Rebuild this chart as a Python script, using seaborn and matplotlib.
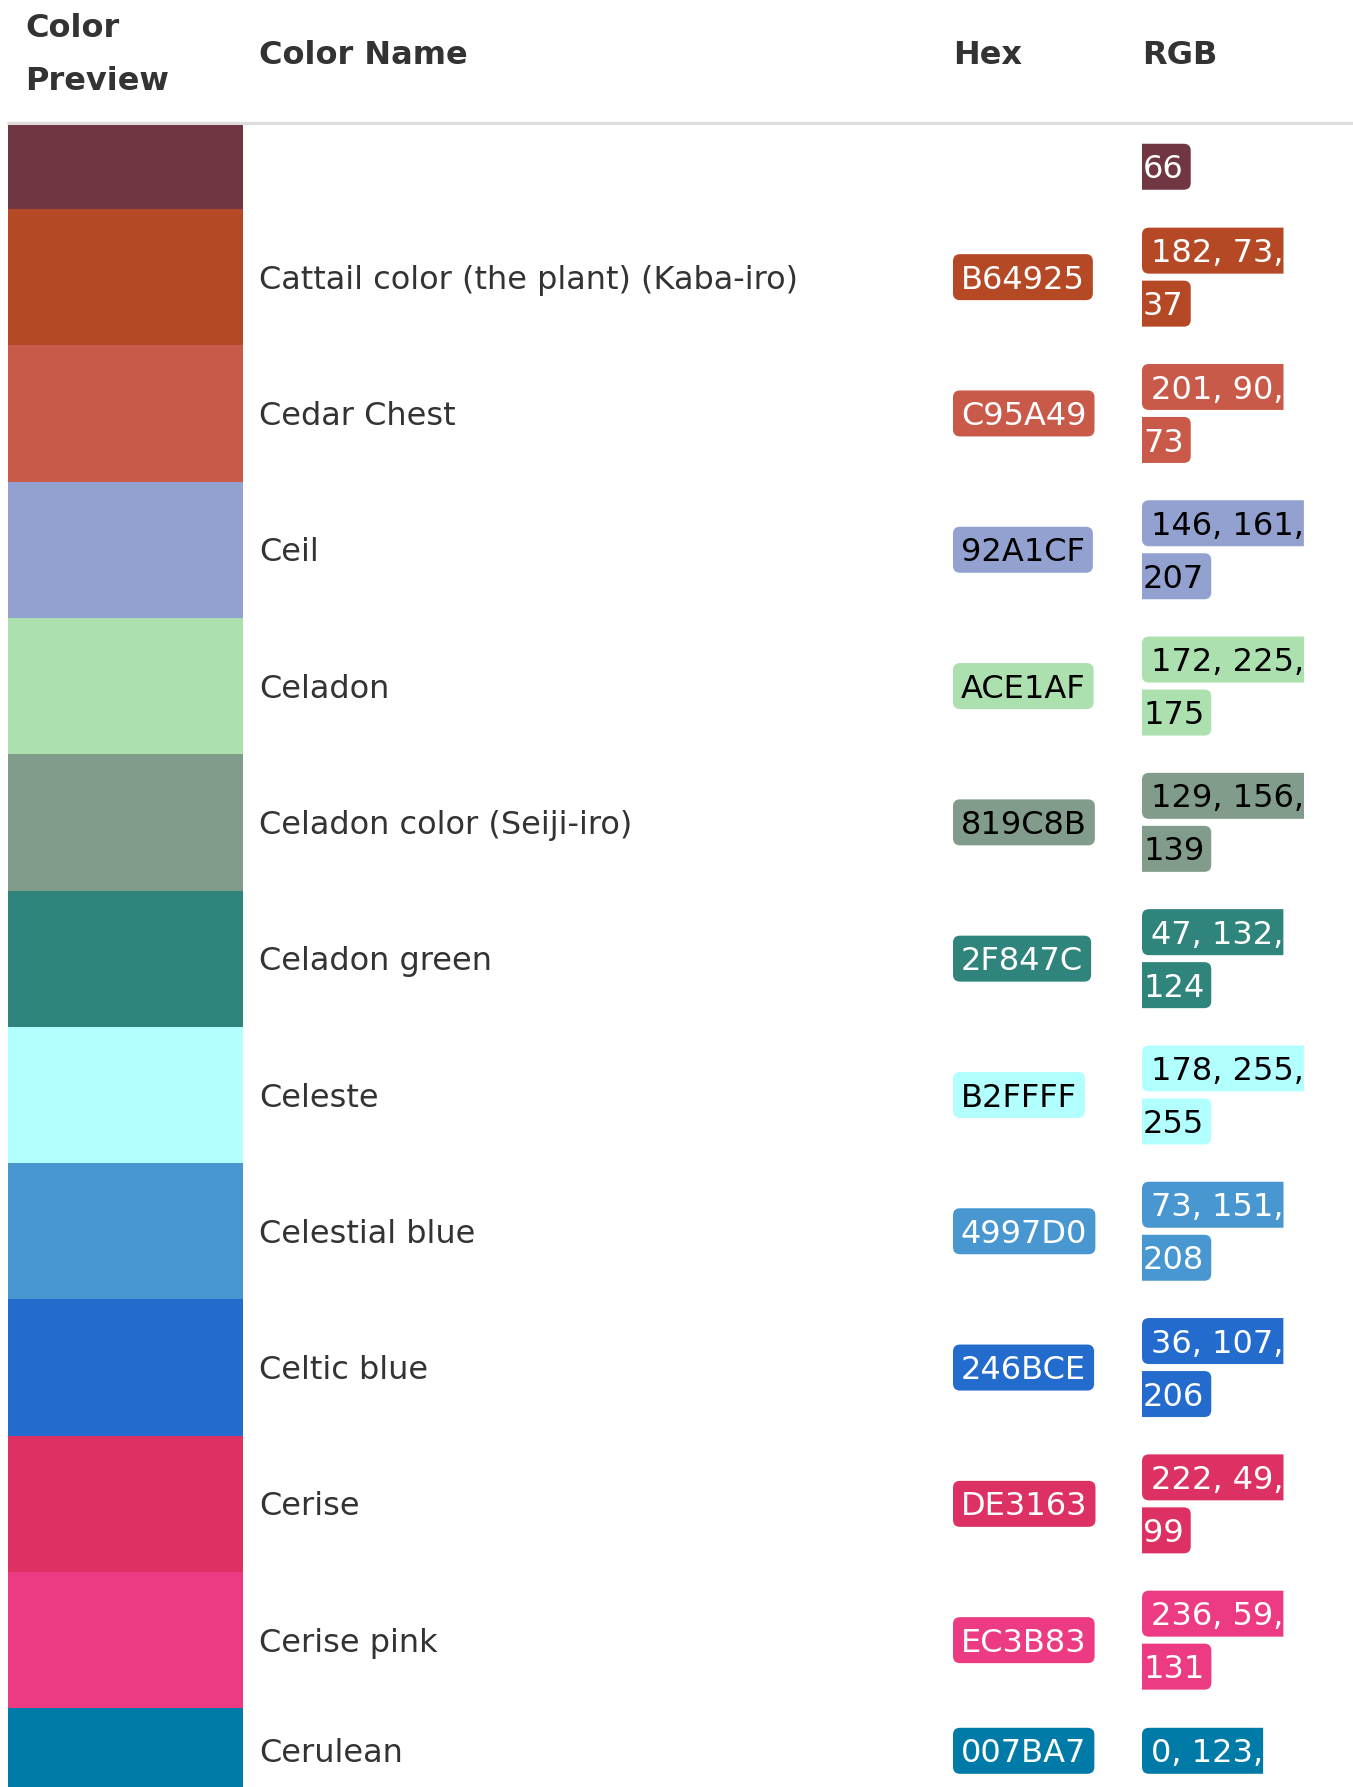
"""Colour reference table: swatch, name, hex badge and RGB badge per row."""
import matplotlib
matplotlib.use("Agg")
import matplotlib.pyplot as plt
from matplotlib.patches import PathPatch
from matplotlib.path import Path
import seaborn as sns

# ---- data -------------------------------------------------------------
headers = ["Color\nPreview", "Color Name", "Hex", "RGB"]
names = ["", "Cattail color (the plant) (Kaba-iro)", "Cedar Chest", "Ceil", "Celadon",
         "Celadon color (Seiji-iro)", "Celadon green", "Celeste", "Celestial blue",
         "Celtic blue", "Cerise", "Cerise pink", "Cerulean"]
hex_codes = ["703642", "B64925", "C95A49", "92A1CF", "ACE1AF", "819C8B", "2F847C",
             "B2FFFF", "4997D0", "246BCE", "DE3163", "EC3B83", "007BA7"]
hex_visible = [False] + [True] * 12
rgb_head = ["", "182, 73,", "201, 90,", "146, 161,", "172, 225,", "129, 156,", "47, 132,",
            "178, 255,", "73, 151,", "36, 107,", "222, 49,", "236, 59,", "0, 123,"]
rgb_tail = ["66", "37", "73", "207", "175", "139", "124", "255", "208", "206", "99", "131", ""]

# ---- layout (pixels) --------------------------------------------------
W, H = 1353, 1787
FS = 23                      # pt, at dpi 100
CAP = 0.3645 * FS * 100 / 72  # cap-centre to baseline offset in px
TXT = "#333333"
col_x = [25, 259, 953, 1142]
sw_x0, sw_x1 = 8, 243
head_c = 52
line_gap = 26.5
row_h = [84.5] + [136.3] * 11 + [85]
BH, R = 46, 7

sns.set_theme(style="white")
plt.rcParams["font.family"] = ["DejaVu Sans"]

fig = plt.figure(figsize=(W / 100, H / 100), dpi=100)
ax = fig.add_axes([0, 0, 1, 1])
ax.set_xlim(0, W)
ax.set_ylim(H, 0)
ax.axis("off")
renderer = fig.canvas.get_renderer()

# header
for x, lab in zip(col_x, headers):
    lines = lab.split("\n")
    n = len(lines)
    for i, ln in enumerate(lines):
        yc = head_c + (i - (n - 1) / 2) * 2 * line_gap
        ax.text(x, yc + CAP, ln, fontsize=FS, fontweight="bold", color=TXT, va="baseline", ha="left")
ax.axhline(122.5, xmin=sw_x0 / W, xmax=1, color="#dddddd", lw=2.3, zorder=1)

# rows
tops = [124.5]
for h in row_h[:-1]:
    tops.append(tops[-1] + h)
colors = ["#" + c for c in hex_codes]
ax.bar([sw_x0] * len(colors), row_h, width=sw_x1 - sw_x0, bottom=tops, align="edge",
       color=colors, linewidth=0, zorder=1)


def ink(c):
    r, g, b = (int(c[i:i + 2], 16) for i in (1, 3, 5))
    return "black" if 0.299 * r + 0.587 * g + 0.114 * b > 140 else "white"


def pill(x0, y0, x1, y1, rl, rr):
    # box with rounded left and/or right corners, as one path (no seams)
    C3, L = Path.CURVE3, Path.LINETO
    v = [(x0 + rl, y0), (x1 - rr, y0), (x1, y0), (x1, y0 + rr), (x1, y1 - rr),
         (x1, y1), (x1 - rr, y1), (x0 + rl, y1), (x0, y1), (x0, y1 - rl),
         (x0, y0 + rl), (x0, y0), (x0 + rl, y0), (x0 + rl, y0)]
    c = [Path.MOVETO, L, C3, C3, L, C3, C3, L, C3, C3, L, C3, C3, Path.CLOSEPOLY]
    return Path(v, c)


def badge(x, yc, text, color, lpad, rpad, round_l, round_r):
    t = ax.text(x + lpad, yc + CAP, text, fontsize=FS, color=ink(color),
                va="baseline", ha="left", zorder=3)
    w = t.get_window_extent(renderer).width
    bw = lpad + w + rpad
    p = pill(x, yc - BH / 2, x + bw, yc + BH / 2, R if round_l else 0, R if round_r else 0)
    ax.add_patch(PathPatch(p, fc=color, ec="none", zorder=2))


for i, (top, h) in enumerate(zip(tops, row_h)):
    yc = top + h / 2
    c = colors[i]
    if names[i]:
        ax.text(col_x[1], yc + CAP, names[i], fontsize=FS, color=TXT, va="baseline", ha="left")
    if hex_visible[i]:
        badge(col_x[2], yc, hex_codes[i], c, 8, 8, True, True)
    parts = [(rgb_head[i], "head"), (rgb_tail[i], "tail")]
    parts = [p for p in parts if p[0]]
    n = len(parts)
    for k, (txt, kind) in enumerate(parts):
        ly = yc + (k - (n - 1) / 2) * 2 * line_gap
        if kind == "head":
            badge(col_x[3], ly, txt, c, 9, 0, True, False)
        else:
            badge(col_x[3], ly, txt, c, 1, 7, False, True)

fig.savefig("out.png", dpi=100)
